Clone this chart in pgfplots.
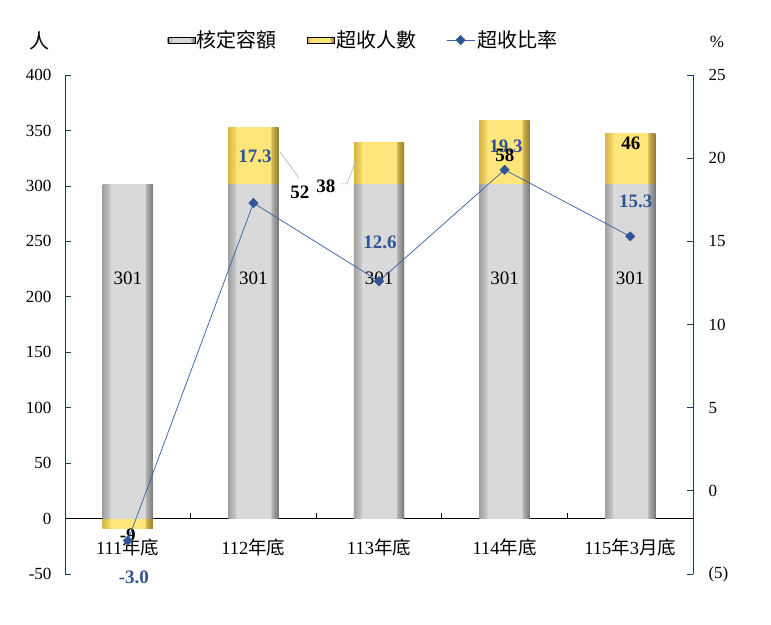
\documentclass[border=0pt]{standalone}
\usepackage{pgfplots}
\usepackage{pgfplotstable}
\pgfplotsset{compat=1.18}
\usepackage{fontspec}
\setmainfont{Liberation Serif}
\newfontfamily\cjk{Noto Sans CJK TC}

\definecolor{axisblue}{HTML}{1F3864}
\definecolor{lineblue}{HTML}{4064A8}
\definecolor{markblue}{HTML}{2F5597}
\definecolor{labblue}{HTML}{2F5496}
\definecolor{gface}{HTML}{D9D9D9}
\definecolor{gleft}{HTML}{A0A0A0}
\definecolor{gleftin}{HTML}{C6C6C6}
\definecolor{grightin}{HTML}{B4B4B4}
\definecolor{gright}{HTML}{777777}
\definecolor{yface}{HTML}{FFE57A}
\definecolor{yleft}{HTML}{D6B646}
\definecolor{yleftin}{HTML}{F2D664}
\definecolor{yrightin}{HTML}{D4B652}
\definecolor{yright}{HTML}{947C2E}

\pgfdeclarehorizontalshading{graybevel}{100bp}{color(0bp)=(gleft); color(25bp)=(gleft); color(32bp)=(gleftin); color(33bp)=(gface); color(67bp)=(gface); color(68bp)=(grightin); color(75bp)=(gright); color(100bp)=(gright)}
\pgfdeclarehorizontalshading{yellowbevel}{100bp}{color(0bp)=(yleft); color(25bp)=(yleft); color(32bp)=(yleftin); color(33bp)=(yface); color(67bp)=(yface); color(68bp)=(yrightin); color(75bp)=(yright); color(100bp)=(yright)}

% x: category, cap: 核定容額, top: 核定容額 + 超收人數 (111: 超收 -9 below zero)
\pgfplotstableread{
x cap top
0 301 -9
1 301 353
2 301 339
3 301 359
4 301 347
}\bars

\begin{document}
\begin{tikzpicture}
\begin{axis}[name=main, scale only axis, width=628pt, height=499pt,
  xmin=-0.5, xmax=4.5, ymin=-50, ymax=400,
  axis y line*=left, axis x line*=middle,
  x axis line style={-, black, line width=0.75pt},
  y axis line style={-, axisblue, line width=0.75pt},
  hide obscured y ticks=false, hide obscured x ticks=false,
  xtick={0,...,4},
  xticklabels={111{\cjk 年底}, 112{\cjk 年底}, 113{\cjk 年底}, 114{\cjk 年底}, 115{\cjk 年}3{\cjk 月底}},
  major x tick style={draw=none},
  ytick={-50,0,...,400},
  y tick style={axisblue, line width=0.75pt},
  tick align=inside, major tick length=6pt,
  yticklabel style={font=\fontsize{17}{20}\selectfont, xshift=-10pt},
  xticklabel style={font=\fontsize{18.5}{22}\selectfont, yshift=-11pt},
  /pgf/number format/assume math mode=true,
  ybar, bar width=0.4, bar shift=0pt,
]
\pgfplotsinvokeforeach{0,...,4}{
  \addplot[draw=none, shade, shading=yellowbevel, restrict x to domain=#1:#1] table[x=x, y=top] {\bars};
  \addplot[draw=none, shade, shading=graybevel, restrict x to domain=#1:#1] table[x=x, y=cap] {\bars};
}
\pgfplotsinvokeforeach{0.5,1.5,2.5,3.5}{\draw[black, line width=0.75pt] (axis cs:#1,0) -- ([yshift=6pt]axis cs:#1,0);}
\end{axis}

\begin{axis}[scale only axis, width=628pt, height=499pt,
  xmin=-0.5, xmax=4.5, ymin=-5, ymax=25,
  axis y line*=right, axis x line=none,
  y axis line style={-, axisblue, line width=0.75pt},
  ytick={-5,0,...,25}, yticklabels={(5),0,5,10,15,20,25},
  y tick style={axisblue, line width=0.75pt},
  tick align=inside, major tick length=6pt,
  yticklabel style={font=\fontsize{17}{20}\selectfont, xshift=12pt},
  clip=false,
  legend image code/.code={\draw[mark repeat=2,mark phase=2,#1] plot coordinates {(0pt,0pt) (14pt,0pt) (28pt,0pt)};},
  legend style={at={(0.475,1.070)}, anchor=center, draw=none, fill=none,
    legend columns=3, font=\cjk\fontsize{20}{24}\selectfont,
    nodes={inner sep=2pt},
    /tikz/every even column/.append style={column sep=28pt}},
]
\addlegendimage{legend image code/.code={\shade[shading=graybevel] (0pt,-3pt) rectangle (27pt,3pt);}}
\addlegendentry{核定容額}
\addlegendimage{legend image code/.code={\shade[shading=yellowbevel] (0pt,-3pt) rectangle (27pt,3pt);}}
\addlegendentry{超收人數}

% labels drawn under the line
\pgfplotsinvokeforeach{0,...,4}{\node[font=\fontsize{19}{22}\selectfont] at (axis cs:#1,12.8) {301};}
\node[font=\bfseries\fontsize{19}{22}\selectfont] at (axis cs:0,-2.65) {-9};
\node[font=\bfseries\fontsize{19}{22}\selectfont, text=labblue] at (axis cs:3.011,20.73) {19.3};

\addplot[lineblue, line width=0.75pt, mark=square*, mark size=3.2pt,
  mark options={rotate=45, fill=markblue, draw=markblue}]
  coordinates {(0,-3.0) (1,17.3) (2,12.6) (3,19.3) (4,15.3)};
\addlegendentry{超收比率}

\node[font=\bfseries\fontsize{19}{22}\selectfont] at (axis cs:1.371,17.96) {52};
\draw[gray!60, line width=0.6pt] (axis cs:1.212,20.37) -- (axis cs:1.363,18.81);
\node[font=\bfseries\fontsize{19}{22}\selectfont] at (axis cs:1.578,18.32) {38};
\draw[gray!60, line width=0.6pt] (axis cs:1.697,18.45) -- (axis cs:1.745,18.45) -- (axis cs:1.809,19.71);
\node[font=\bfseries\fontsize{19}{22}\selectfont] at (axis cs:3.003,20.19) {58};
\node[font=\bfseries\fontsize{19}{22}\selectfont] at (axis cs:4.006,20.91) {46};
\node[font=\bfseries\fontsize{19}{22}\selectfont, text=labblue] at (axis cs:1.013,20.13) {17.3};
\node[font=\bfseries\fontsize{19}{22}\selectfont, text=labblue] at (axis cs:2.008,14.96) {12.6};
\node[font=\bfseries\fontsize{19}{22}\selectfont, text=labblue] at (axis cs:4.045,17.42) {15.3};
\node[font=\bfseries\fontsize{19}{22}\selectfont, text=labblue] at (axis cs:0.049,-5.17) {-3.0};

\node[font=\cjk\fontsize{20}{24}\selectfont] at (rel axis cs:-0.040,1.068) {人};
\node[font=\fontsize{17}{20}\selectfont] at (rel axis cs:1.038,1.066) {\%};
\end{axis}
\pgfresetboundingbox
\path[use as bounding box] ([shift={(-65pt,-50pt)}]main.south west) rectangle ([shift={(78pt,75pt)}]main.north east);
\end{tikzpicture}
\end{document}
